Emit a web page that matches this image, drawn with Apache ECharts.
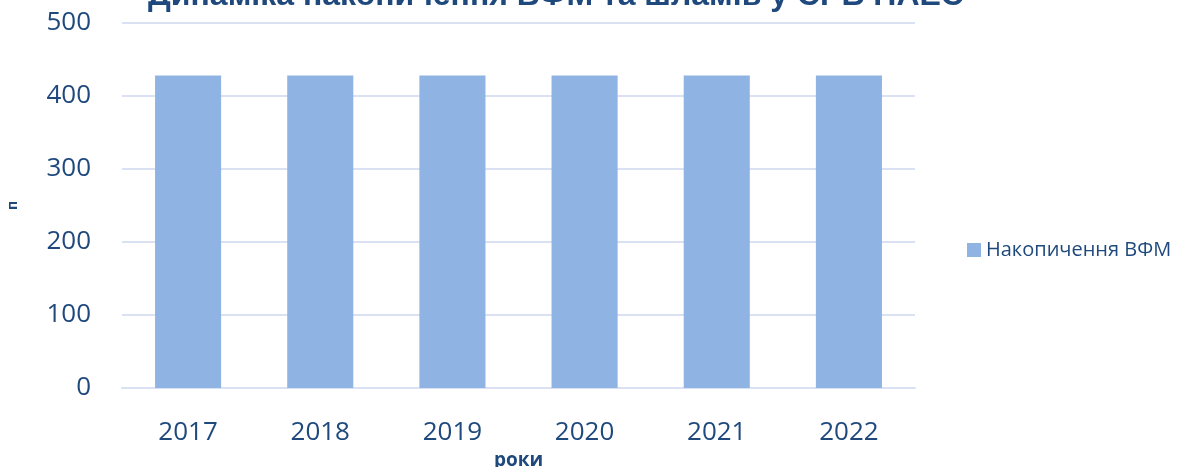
<!DOCTYPE html>
<html>
<head>
<meta charset="utf-8">
<script src="https://cdn.jsdelivr.net/npm/echarts@6/dist/echarts.min.js"></script>
<style>
  html, body { margin: 0; padding: 0; background: #fff; }
  #charts_main { width: 1180px; height: 467px; }
</style>
</head>
<body>
<div id="charts_main"></div>
<script>
const years = ['2017', '2018', '2019', '2020', '2021', '2022'];
const vfm = [428, 428, 428, 428, 428, 428];
const yTicks = [0, 100, 200, 300, 400, 500];

const textColor = '#1F497D';
const font = '"Open Sans", sans-serif';

let chart = echarts.init(document.getElementById('charts_main'));

let option = {
  animation: false,
  title: {
    text: 'Динаміка накопичення ВФМ та шламів у СРБ НАЕС',
    left: 551,
    textAlign: 'center',
    top: -25,
    textStyle: {
      color: textColor,
      fontFamily: '"Liberation Sans", Arial, sans-serif',
      fontWeight: 'bold',
      fontSize: 32
    }
  },
  legend: {
    orient: 'vertical',
    left: 962,
    top: 235,
    icon: 'rect',
    itemWidth: 14,
    itemHeight: 14,
    itemGap: 8,
    textStyle: { color: textColor, fontFamily: font, fontSize: 20 },
    data: ['Накопичення ВФМ']
  },
  grid: { left: 122, right: 265, top: 23, bottom: 79, outerBoundsMode: 'none' },
  xAxis: {
    type: 'category',
    data: years,
    name: 'роки',
    nameLocation: 'middle',
    nameGap: 59,
    nameTextStyle: { color: textColor, fontFamily: font, fontWeight: 'bold', fontSize: 19 },
    axisLine: { lineStyle: { color: '#D9E1F2', width: 2 } },
    axisTick: { show: false },
    axisLabel: { color: textColor, fontFamily: font, fontSize: 26, margin: 32 }
  },
  yAxis: {
    type: 'value',
    min: 0,
    max: 500,
    interval: 100,
    name: 'п',
    nameLocation: 'middle',
    nameGap: 102,
    nameTextStyle: { color: textColor, fontFamily: font, fontWeight: 'bold', fontSize: 14 },
    axisLine: { show: false },
    axisTick: { show: false },
    axisLabel: {
      color: textColor, fontFamily: font, fontSize: 26, margin: 31,
      formatter: v => yTicks.includes(v) ? String(v) : ''
    },
    splitLine: { lineStyle: { color: '#D9E1F2', width: 2 } }
  },
  series: [
    {
      name: 'Накопичення ВФМ',
      type: 'bar',
      barWidth: '50%',
      itemStyle: { color: '#8FB4E3' },
      data: vfm
    }
  ]
};

chart.setOption(option);
</script>
</body>
</html>
